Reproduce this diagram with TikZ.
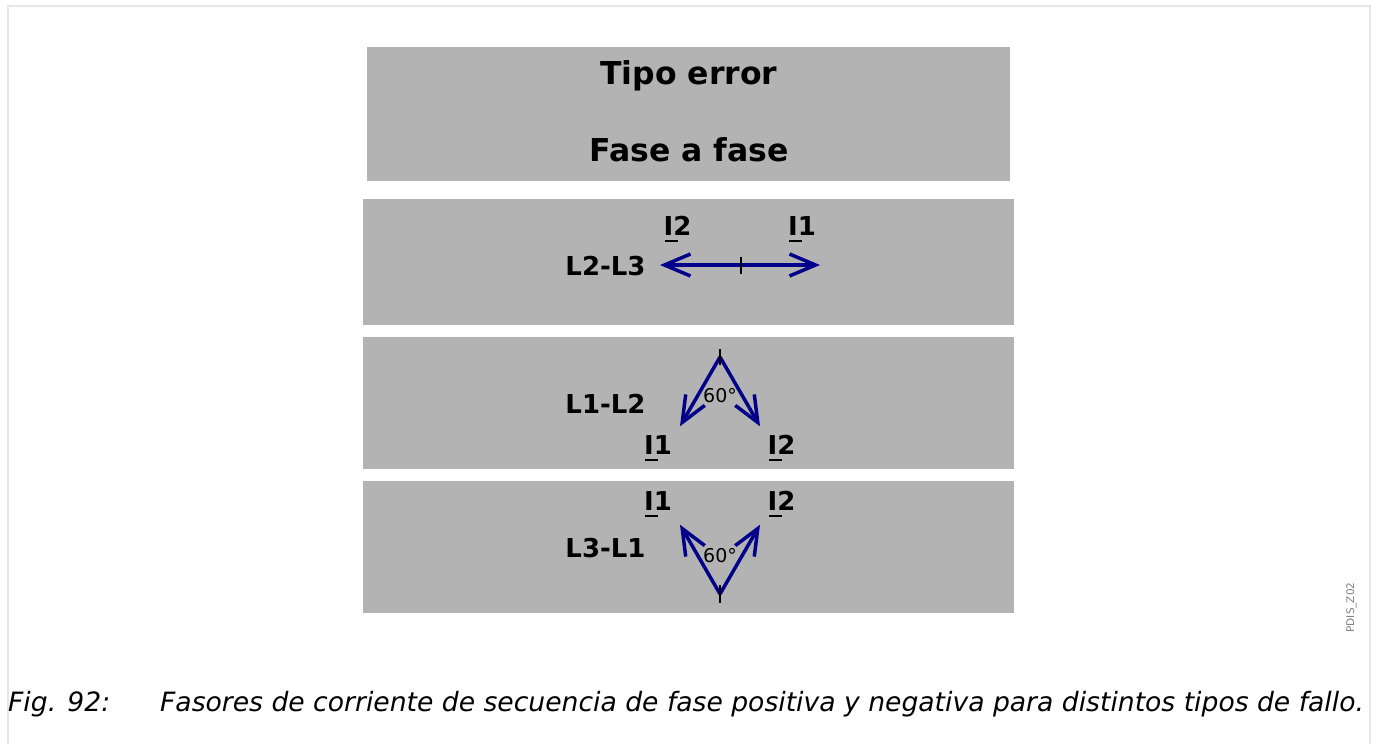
\documentclass[tikz,border=0pt]{standalone}
\usepackage{fontspec}
\setmainfont{DejaVu Sans}[ItalicFont={DejaVu Sans Oblique},BoldFont={DejaVu Sans Bold},BoldItalicFont={DejaVu Sans Bold Oblique}]
\definecolor{boxgray}{HTML}{B3B3B3}
\definecolor{phasorblue}{HTML}{00008B}
\definecolor{framegray}{HTML}{E6E6E6}
\definecolor{taggray}{HTML}{808080}
\usetikzlibrary{arrows.meta,positioning}
\newcommand{\ulI}{\rlap{\hspace{1pt}\rule[-7pt]{13pt}{2pt}}I}

\begin{document}
\begin{tikzpicture}[x=1pt, y=-1pt,
    panel/.style={rectangle, fill=boxgray, inner sep=0pt, anchor=north west},
    title/.style={font=\fontsize{31.5}{38}\selectfont\bfseries, inner sep=0pt, anchor=base},
    lbl/.style={font=\fontsize{26}{31}\selectfont\bfseries, inner sep=0pt, anchor=base},
    degtext/.style={font=\fontsize{19}{23}\selectfont, inner sep=0pt, anchor=base},
    caption/.style={font=\fontsize{26.6}{32}\selectfont\itshape, inner sep=0pt, anchor=base west},
    phasor/.style={-{Straight Barb[length=26pt,width=22pt]}, line width=3.5pt, phasorblue},
    zeromark/.style={line width=1.5pt, black}
]
    \fill[white] (0,0) rectangle (1375,744);
    \useasboundingbox (0,0) rectangle (1375,744);
    \draw[framegray, line width=2pt] (8,744) -- (8,6) -- (1370,6) -- (1370,744);

    % panels
    \node[panel, minimum width=643pt, minimum height=134pt] (head) at (367,47) {};
    \node[panel, minimum width=651pt, minimum height=126pt] (p23) at (363,199) {};
    \node[panel, minimum width=651pt, minimum height=132pt] (p12) at (363,337) {};
    \node[panel, minimum width=651pt, minimum height=132pt] (p31) at (363,481) {};

    \node[title] (tipo) at (689,84.5) {Tipo error};
    \node[title] (fase) at (689,161.5) {Fase a fase};

    % L2-L3
    \coordinate (o23) at (741,265);
    \coordinate (tip2a) at (660,265);
    \coordinate (tip1a) at (820,265);
    \draw[phasor] (o23) -- (tip2a);
    \draw[phasor] (o23) -- (tip1a);
    \draw[zeromark] ([yshift=8.5pt]o23) -- ([yshift=-8.5pt]o23);
    \node[lbl] (l23) at (605.5,275) {L2-L3};
    \node[lbl] (i2a) at (677.5,235) {\ulI2};
    \node[lbl] (i1a) at (802,235) {\ulI1};

    % L1-L2
    \coordinate (o12) at (720,357);
    \coordinate (tip1b) at (680,426.3);
    \coordinate (tip2b) at (760,426.3);
    \draw[phasor] (o12) -- (tip1b);
    \draw[phasor] (o12) -- (tip2b);
    \draw[zeromark] ([yshift=8pt]o12) -- ([yshift=-8pt]o12);
    \node[lbl] (l12) at (605.5,413) {L1-L2};
    \node[degtext] (d12) at (720,402) {60°};
    \node[lbl] (i1b) at (658,454) {\ulI1};
    \node[lbl] (i2b) at (781.5,454) {\ulI2};

    % L3-L1
    \coordinate (o31) at (720,594);
    \coordinate (tip1c) at (680,524.7);
    \coordinate (tip2c) at (760,524.7);
    \draw[phasor] (o31) -- (tip1c);
    \draw[phasor] (o31) -- (tip2c);
    \draw[zeromark] ([yshift=9pt]o31) -- ([yshift=-9pt]o31);
    \node[lbl] (l31) at (605.5,557) {L3-L1};
    \node[degtext] (d31) at (720,562) {60°};
    \node[lbl] (i1c) at (658,510) {\ulI1};
    \node[lbl] (i2c) at (781.5,510) {\ulI2};

    \node[font=\fontsize{10.5}{12}\selectfont, text=taggray, inner sep=0pt, rotate=90, anchor=base] (tag) at (1354,607.5) {PDIS\_Z02};

    \node[caption] (fig) at (8,711) {Fig. 92:};
    \node[caption] (capt) at (160,711) {Fasores de corriente de secuencia de fase positiva y negativa para distintos tipos de fallo.};
\end{tikzpicture}
\end{document}
